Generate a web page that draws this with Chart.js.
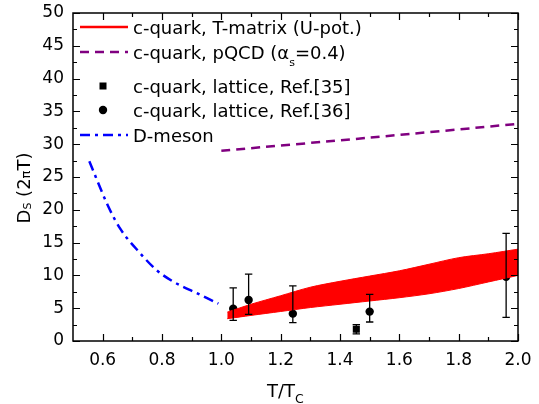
<!DOCTYPE html>
<html>
<head>
<meta charset="utf-8">
<script src="https://cdn.jsdelivr.net/npm/chart.js@4/dist/chart.umd.min.js"></script>
<style>
    html, body { margin: 0; padding: 0; background: #fff; }
    canvas { display: block; }
</style>
</head>
<body>
<canvas id="dsChart" width="539" height="404"></canvas>
<script>

// ==========================================
// Data
// ==========================================

const xTicks = [0.6, 0.8, 1.0, 1.2, 1.4, 1.6, 1.8, 2.0];
const yTicks = [0, 5, 10, 15, 20, 25, 30, 35, 40, 45, 50];

// T-matrix band (U-potential)
const bandT     = [1.02, 1.1, 1.2, 1.3, 1.4, 1.5, 1.6, 1.7, 1.8, 1.9, 2.0];
const bandUpper = [4.4, 5.6, 6.9, 8.2, 9.1, 9.9, 10.7, 11.7, 12.7, 13.3, 14.0];
const bandLower = [3.4, 3.9, 4.5, 5.1, 5.6, 6.1, 6.6, 7.2, 8.0, 9.0, 10.0];

// pQCD (alpha_s = 0.4)
const pqcdT = [1.0, 1.5, 2.0];
const pqcdD = [29.0, 31.0, 33.1];

// D-meson
const mesonT = [0.555, 0.619, 0.658, 0.726, 0.782, 0.838, 0.917, 0.99];
const mesonD = [27.4, 20.5, 17.2, 13.4, 10.8, 9.05, 7.3, 5.7];

// lattice, Ref.[35]
const lat35T    = [1.455];
const lat35D    = [1.8];
const lat35Low  = [1.1];
const lat35High = [2.5];

// lattice, Ref.[36]
const lat36T    = [1.04, 1.092, 1.241, 1.50, 1.96];
const lat36D    = [4.93, 6.26, 4.17, 4.48, 9.8];
const lat36Low  = [3.15, 4.07, 2.8, 2.9, 3.6];
const lat36High = [8.1, 10.2, 8.4, 7.1, 16.4];

const FONT = "'DejaVu Sans', sans-serif";

function points(xs, ys) {
    return xs.map((x, i) => ({ x: x, y: ys[i] }));
}


// ==========================================
// Error bars
// ==========================================

const errorBars = {

    id: "errorBars",

    afterDatasetsDraw(chart) {

        const ctx = chart.ctx;
        const xs = chart.scales.x;
        const ys = chart.scales.y;

        const sets = [
            [lat35T, lat35Low, lat35High],
            [lat36T, lat36Low, lat36High]
        ];

        ctx.save();
        ctx.strokeStyle = "#000";
        ctx.lineWidth = 1.3;

        sets.forEach(s => {

            s[0].forEach((t, i) => {

                const px = xs.getPixelForValue(t);
                const lo = ys.getPixelForValue(s[1][i]);
                const hi = ys.getPixelForValue(s[2][i]);

                ctx.beginPath();
                ctx.moveTo(px, lo);
                ctx.lineTo(px, hi);
                ctx.moveTo(px - 3.7, lo);
                ctx.lineTo(px + 3.7, lo);
                ctx.moveTo(px - 3.7, hi);
                ctx.lineTo(px + 3.7, hi);
                ctx.stroke();

            });

        });

        ctx.restore();

    }

};


// ==========================================
// Frame, ticks, titles, legend
// ==========================================

function partsWidth(ctx, parts) {

    let w = 0;

    parts.forEach(p => {
        ctx.font = p.size + "px " + FONT;
        w += ctx.measureText(p.text).width;
    });

    return w;

}

function drawParts(ctx, x, y, parts) {

    parts.forEach(p => {

        ctx.font = p.size + "px " + FONT;
        ctx.fillText(p.text, x, y + (p.dy || 0));
        x += ctx.measureText(p.text).width;

    });

}

const decorations = {

    id: "decorations",

    afterDraw(chart) {

        const ctx = chart.ctx;
        const a = chart.chartArea;
        const xs = chart.scales.x;
        const ys = chart.scales.y;

        ctx.save();

        // frame
        ctx.strokeStyle = "#000";
        ctx.lineWidth = 1.5;
        ctx.strokeRect(a.left, a.top, a.right - a.left, a.bottom - a.top);

        // ticks pointing inward, on all four sides
        ctx.lineWidth = 1.2;
        ctx.beginPath();

        for (let v = 0.6; v < 2.001; v += 0.1) {
            const px = Math.round(xs.getPixelForValue(v)) + 0.5;
            const major = Math.round(v * 10) % 2 === 0;
            const len = major ? 7 : 4;
            ctx.moveTo(px, a.bottom);
            ctx.lineTo(px, a.bottom - len);
            ctx.moveTo(px, a.top);
            ctx.lineTo(px, a.top + len);
        }

        for (let v = 0; v <= 50; v += 2.5) {
            const py = Math.round(ys.getPixelForValue(v)) + 0.5;
            const major = v % 5 === 0;
            const len = major ? 7 : 4;
            ctx.moveTo(a.left, py);
            ctx.lineTo(a.left + len, py);
            ctx.moveTo(a.right, py);
            ctx.lineTo(a.right - len, py);
        }

        ctx.stroke();

        ctx.fillStyle = "#000";
        ctx.textBaseline = "alphabetic";

        // x title: T/T_C
        const xParts = [
            { text: "T/T", size: 18 },
            { text: "C", size: 12.5, dy: 6 }
        ];
        drawParts(ctx, 267, 397, xParts);

        // y title: D_S (2πT)
        const yParts = [
            { text: "D", size: 18 },
            { text: "S", size: 11, dy: 1 },
            { text: " (2", size: 18 },
            { text: "π", size: 13 },
            { text: "T)", size: 18 }
        ];
        const w = partsWidth(ctx, yParts);
        ctx.save();
        ctx.translate(30, 188);
        ctx.rotate(-Math.PI / 2);
        drawParts(ctx, -w / 2, 0, yParts);
        ctx.restore();

        // legend
        const rows = [
            { y: 27, kind: "band", parts: [{ text: "c-quark, T-matrix (U-pot.)", size: 18 }] },
            { y: 52, kind: "pqcd", parts: [
                { text: "c-quark, pQCD (", size: 18 },
                { text: "α", size: 18 },
                { text: "s", size: 11, dy: 7 },
                { text: "=0.4)", size: 18 }
            ] },
            { y: 86, kind: "square", parts: [{ text: "c-quark, lattice, Ref.[35]", size: 18 }] },
            { y: 110, kind: "circle", parts: [{ text: "c-quark, lattice, Ref.[36]", size: 18 }] },
            { y: 135, kind: "meson", parts: [{ text: "D-meson", size: 18 }] }
        ];

        rows.forEach(r => {

            ctx.save();

            if (r.kind === "band" || r.kind === "pqcd" || r.kind === "meson") {

                ctx.lineWidth = 2.5;
                ctx.strokeStyle = r.kind === "band" ? "#ff0000" : (r.kind === "pqcd" ? "#800080" : "#0000ff");
                ctx.setLineDash(r.kind === "band" ? [] : (r.kind === "pqcd" ? [9, 6] : [10, 5, 3, 5]));
                ctx.beginPath();
                ctx.moveTo(80, r.y);
                ctx.lineTo(128, r.y);
                ctx.stroke();

            } else if (r.kind === "square") {

                ctx.fillStyle = "#000";
                ctx.fillRect(99.5, r.y - 3.5, 7, 7);

            } else {

                ctx.fillStyle = "#000";
                ctx.beginPath();
                ctx.arc(103, r.y, 4.2, 0, Math.PI * 2);
                ctx.fill();

            }

            ctx.restore();

            drawParts(ctx, 133, r.y + 7, r.parts);

        });

        ctx.restore();

    }

};


// ==========================================
// Chart
// ==========================================

const ctx = document.getElementById("dsChart").getContext("2d");

new Chart(ctx, {

    type: "line",

    data: {

        datasets: [

            {
                label: "band upper",
                data: points(bandT, bandUpper),
                borderColor: "#ff0000",
                borderWidth: 1,
                backgroundColor: "#ff0000",
                fill: "+1",
                pointRadius: 0,
                tension: 0.3
            },

            {
                label: "c-quark, T-matrix (U-pot.)",
                data: points(bandT, bandLower),
                borderColor: "#ff0000",
                borderWidth: 1,
                pointRadius: 0,
                fill: false,
                tension: 0.3
            },

            {
                label: "c-quark, pQCD",
                data: points(pqcdT, pqcdD),
                borderColor: "#800080",
                borderWidth: 2.5,
                borderDash: [9, 6],
                pointRadius: 0,
                fill: false,
                tension: 0.3
            },

            {
                label: "D-meson",
                data: points(mesonT, mesonD),
                borderColor: "#0000ff",
                borderWidth: 2.5,
                borderDash: [10, 5, 3, 5],
                pointRadius: 0,
                fill: false,
                cubicInterpolationMode: "monotone"
            },

            {
                label: "c-quark, lattice, Ref.[35]",
                data: points(lat35T, lat35D),
                showLine: false,
                pointStyle: "rect",
                pointRadius: 5,
                pointBackgroundColor: "#000",
                pointBorderColor: "#000",
                pointBorderWidth: 0
            },

            {
                label: "c-quark, lattice, Ref.[36]",
                data: points(lat36T, lat36D),
                showLine: false,
                pointStyle: "circle",
                pointRadius: 4.2,
                pointBackgroundColor: "#000",
                pointBorderColor: "#000",
                pointBorderWidth: 0
            }

        ]

    },

    options: {

        responsive: false,
        animation: false,

        layout: {
            padding: { left: 0, top: 13, right: 21, bottom: 0 }
        },

        plugins: {
            legend: { display: false },
            tooltip: { enabled: false }
        },

        scales: {

            x: {
                type: "linear",
                min: 0.5,
                max: 2.0,
                grid: { display: false, drawTicks: false },
                border: { display: false },
                afterBuildTicks: s => { s.ticks = xTicks.map(v => ({ value: v })); },
                afterFit: s => {
                    s.height = 63;
                    s.paddingLeft = 0;
                    s.paddingRight = 0;
                },
                ticks: {
                    padding: 9,
                    color: "#000",
                    maxRotation: 0,
                    font: { family: FONT, size: 17 },
                    callback: v => Number(v).toFixed(1)
                }
            },

            y: {
                min: 0,
                max: 50,
                grid: { display: false, drawTicks: false },
                border: { display: false },
                afterBuildTicks: s => { s.ticks = yTicks.map(v => ({ value: v })); },
                afterFit: s => {
                    s.width = 73;
                    s.paddingTop = 0;
                    s.paddingBottom = 0;
                },
                ticks: {
                    padding: 9,
                    color: "#000",
                    font: { family: FONT, size: 17 }
                }
            }

        }

    },

    plugins: [errorBars, decorations]

});

</script>
</body>
</html>
